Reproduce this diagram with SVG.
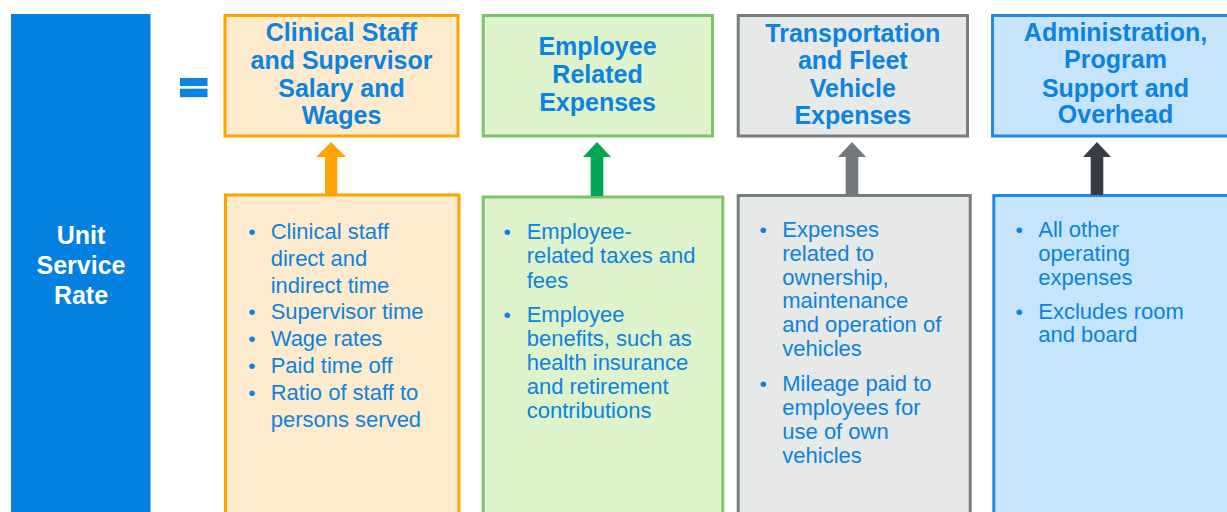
<svg xmlns="http://www.w3.org/2000/svg" width="1227" height="512" viewBox="0 0 1227 512">
<style>
.ttl{font-family:"Liberation Sans",Arial,sans-serif;font-weight:bold;font-size:25px;fill:#0B83E0;text-anchor:middle}
.unit{font-family:"Liberation Sans",Arial,sans-serif;font-weight:bold;font-size:25px;fill:#FFFFFF;text-anchor:middle}
.body{font-family:"Liberation Sans",Arial,sans-serif;font-size:22px;fill:#0B83E0}
.bul{font-family:"Liberation Sans",Arial,sans-serif;font-size:21px;fill:#0B83E0;text-anchor:middle}
.box{stroke-width:3}
.or{fill:#FEEBCD;stroke:#FFA300}
.gr{fill:#DEF2CB;stroke:#7CC46A}
.gy{fill:#E7E8E8;stroke:#787D80}
.bl{fill:#C6E4FB;stroke:#1E8AE6}
</style>
<rect width="1227" height="512" fill="#FFFFFF"/>

<g id="unit-service-rate">
<rect x="11" y="14" width="139.5" height="510" fill="#0480E1"/>
<text class="unit" x="81" y="244">Unit</text>
<text class="unit" x="81" y="274">Service</text>
<text class="unit" x="81" y="304">Rate</text>
</g>

<g id="equals">
<rect x="180" y="78" width="27.5" height="8" fill="#0B83E0"/>
<rect x="180" y="88.7" width="27.5" height="8.5" fill="#0B83E0"/>
</g>

<g id="clinical-title">
<rect class="box or" x="225" y="15.5" width="233" height="120.5"/>
<text class="ttl" x="341.5" y="41">Clinical Staff</text>
<text class="ttl" x="341.5" y="68.5">and Supervisor</text>
<text class="ttl" x="341.5" y="96.5">Salary and</text>
<text class="ttl" x="341.5" y="123.5">Wages</text>
</g>

<g id="employee-title">
<rect class="box gr" x="483.2" y="15.5" width="229.3" height="120.5"/>
<text class="ttl" x="597.5" y="55">Employee</text>
<text class="ttl" x="597.5" y="83">Related</text>
<text class="ttl" x="597.5" y="110.5">Expenses</text>
</g>

<g id="transport-title">
<rect class="box gy" x="738.2" y="15.5" width="229.3" height="120.5"/>
<text class="ttl" x="852.8" y="41.5">Transportation</text>
<text class="ttl" x="852.8" y="69">and Fleet</text>
<text class="ttl" x="852.8" y="96.5">Vehicle</text>
<text class="ttl" x="852.8" y="124">Expenses</text>
</g>

<g id="admin-title">
<rect class="box bl" x="992.5" y="15.5" width="260" height="120.5"/>
<text class="ttl" x="1115.5" y="40.5">Administration,</text>
<text class="ttl" x="1115.5" y="68.3">Program</text>
<text class="ttl" x="1115.5" y="96.5">Support and</text>
<text class="ttl" x="1115.5" y="122.7">Overhead</text>
</g>

<g id="clinical-details">
<rect class="box or" x="225.5" y="195" width="233.5" height="330"/>
<text class="bul" x="252" y="239">•</text>
<text class="body" x="270.7" y="239">Clinical staff</text>
<text class="body" x="270.7" y="265.8">direct and</text>
<text class="body" x="270.7" y="292.6">indirect time</text>
<text class="bul" x="252" y="319.4">•</text>
<text class="body" x="270.7" y="319.4">Supervisor time</text>
<text class="bul" x="252" y="346.2">•</text>
<text class="body" x="270.7" y="346.2">Wage rates</text>
<text class="bul" x="252" y="373">•</text>
<text class="body" x="270.7" y="373">Paid time off</text>
<text class="bul" x="252" y="399.8">•</text>
<text class="body" x="270.7" y="399.8">Ratio of staff to</text>
<text class="body" x="270.7" y="426.6">persons served</text>
</g>

<g id="employee-details">
<rect class="box gr" x="483.2" y="197" width="239.6" height="330"/>
<text class="bul" x="507.3" y="239.3">•</text>
<text class="body" x="526.7" y="239.3">Employee-</text>
<text class="body" x="526.7" y="263.4">related taxes and</text>
<text class="body" x="526.7" y="287.5">fees</text>
<text class="bul" x="507.3" y="321.6">•</text>
<text class="body" x="526.7" y="321.6">Employee</text>
<text class="body" x="526.7" y="345.6">benefits, such as</text>
<text class="body" x="526.7" y="369.6">health insurance</text>
<text class="body" x="526.7" y="393.6">and retirement</text>
<text class="body" x="526.7" y="417.6">contributions</text>
</g>

<g id="transport-details">
<rect class="box gy" x="738.2" y="195.5" width="232" height="330"/>
<text class="bul" x="763.3" y="236.7">•</text>
<text class="body" x="782.3" y="236.7">Expenses</text>
<text class="body" x="782.3" y="260.6">related to</text>
<text class="body" x="782.3" y="284.5">ownership,</text>
<text class="body" x="782.3" y="308.4">maintenance</text>
<text class="body" x="782.3" y="332.3">and operation of</text>
<text class="body" x="782.3" y="356.2">vehicles</text>
<text class="bul" x="763.3" y="391">•</text>
<text class="body" x="782.3" y="391">Mileage paid to</text>
<text class="body" x="782.3" y="414.9">employees for</text>
<text class="body" x="782.3" y="438.8">use of own</text>
<text class="body" x="782.3" y="462.7">vehicles</text>
</g>

<g id="admin-details">
<rect class="box bl" x="993.8" y="195.5" width="260" height="330"/>
<text class="bul" x="1019.3" y="236.7">•</text>
<text class="body" x="1038.3" y="236.7">All other</text>
<text class="body" x="1038.3" y="260.6">operating</text>
<text class="body" x="1038.3" y="284.5">expenses</text>
<text class="bul" x="1019.3" y="319">•</text>
<text class="body" x="1038.3" y="319">Excludes room</text>
<text class="body" x="1038.3" y="342">and board</text>
</g>

<g id="connectors">
<polygon points="331,142 346,157 337.3,157 337.3,194.5 325,194.5 325,157 316,157" fill="#FFA300"/>
<polygon points="597,142 611,157 603.3,157 603.3,196 590.7,196 590.7,157 583,157" fill="#00A650"/>
<polygon points="852,142 866,157 858.3,157 858.3,195 845.7,195 845.7,157 838,157" fill="#75797C"/>
<polygon points="1097,142 1111,157 1103.3,157 1103.3,195 1090.7,195 1090.7,157 1083,157" fill="#373D48"/>
</g>
</svg>
